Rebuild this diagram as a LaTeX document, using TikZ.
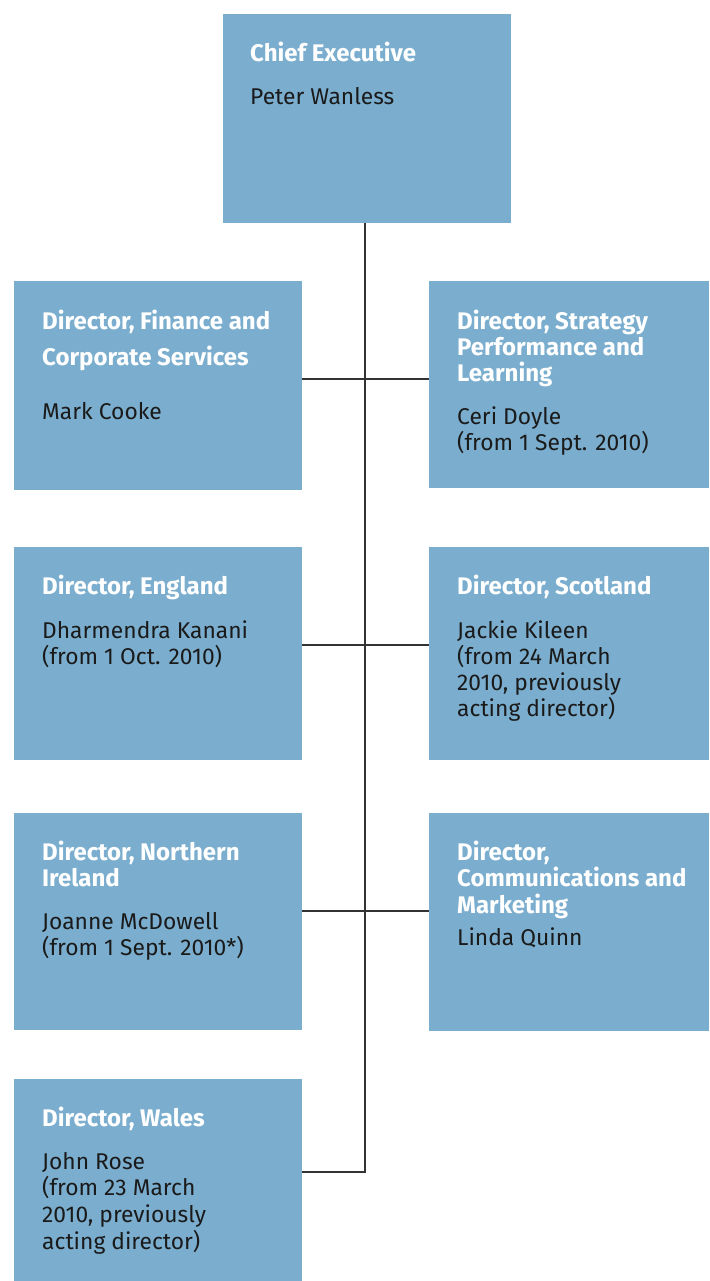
\documentclass[tikz,border=0pt]{standalone}
\usepackage{fontspec}
\setmainfont{Fira Sans}
\definecolor{boxblue}{HTML}{7BAECE}
\definecolor{ink}{HTML}{1A1A1A}
\definecolor{linegray}{HTML}{333333}
\begin{document}
\begin{tikzpicture}[x=1pt,y=-1pt,
  orgbox/.style={fill=boxblue,draw=none,anchor=north west,inner sep=0pt},
  ttl/.style={anchor=base west,inner sep=0pt,text=white,font=\fontsize{24}{26}\selectfont\bfseries},
  nm/.style={anchor=base west,inner sep=0pt,text=ink,font=\fontsize{22.8}{26}\selectfont},
  conn/.style={draw=linegray,line width=1.3pt}]
\useasboundingbox (0,0) rectangle (709,1281);
% boxes
\node[orgbox,minimum width=288pt,minimum height=209pt] (ceo) at (223,14) {};
\node[orgbox,minimum width=288pt,minimum height=209pt] (fin) at (14,281) {};
\node[orgbox,minimum width=280pt,minimum height=207pt] (strat) at (429,281) {};
\node[orgbox,minimum width=288pt,minimum height=213pt] (eng) at (14,547) {};
\node[orgbox,minimum width=280pt,minimum height=213pt] (scot) at (429,547) {};
\node[orgbox,minimum width=288pt,minimum height=217pt] (ni) at (14,813) {};
\node[orgbox,minimum width=280pt,minimum height=218pt] (comm) at (429,813) {};
\node[orgbox,minimum width=288pt,minimum height=202pt] (wal) at (14,1079) {};
% connectors
\coordinate (j1) at (365,379);
\coordinate (j2) at (365,645);
\coordinate (j3) at (365,911);
\coordinate (j4) at (365,1172);
\draw[conn] (ceo.south -| j1) -- (j4) -- (wal.east |- j4);
\draw[conn] (fin.east |- j1) -- (strat.west |- j1);
\draw[conn] (eng.east |- j2) -- (scot.west |- j2);
\draw[conn] (ni.east |- j3) -- (comm.west |- j3);
% texts
\node[ttl] (t0) at (250,61.5) {Chief Executive};
\node[nm] (n0) at (250,105) {Peter Wanless};
\node[ttl] (t1a) at (42,329.5) {Director, Finance and};
\node[ttl] (t1b) at (42,365.5) {Corporate Services};
\node[nm] (n1) at (42,419) {Mark Cooke};
\node[ttl] (t2a) at (457,329.5) {Director, Strategy};
\node[ttl] (t2b) at (457,355.5) {Performance and};
\node[ttl] (t2c) at (457,381.5) {Learning};
\node[nm] (n2a) at (457,424) {Ceri Doyle};
\node[nm] (n2b) at (457,450) {(from 1 Sept. 2010)};
\node[ttl] (t3) at (42,594.5) {Director, England};
\node[nm] (n3a) at (42,638) {Dharmendra Kanani};
\node[nm] (n3b) at (42,664) {(from 1 Oct. 2010)};
\node[ttl] (t4) at (457,594.5) {Director, Scotland};
\node[nm] (n4a) at (457,638) {Jackie Kileen};
\node[nm] (n4b) at (457,664) {(from 24 March};
\node[nm] (n4c) at (457,690) {2010, previously};
\node[nm] (n4d) at (457,716) {acting director)};
\node[ttl] (t5a) at (42,860.5) {Director, Northern};
\node[ttl] (t5b) at (42,886.5) {Ireland};
\node[nm] (n5a) at (42,929) {Joanne McDowell};
\node[nm] (n5b) at (42,955) {(from 1 Sept. 2010*)};
\node[ttl] (t6a) at (457,860.5) {Director,};
\node[ttl] (t6b) at (457,886.5) {Communications and};
\node[ttl] (t6c) at (457,913.5) {Marketing};
\node[nm] (n6) at (457,945) {Linda Quinn};
\node[ttl] (t7) at (42,1126.5) {Director, Wales};
\node[nm] (n7a) at (42,1169) {John Rose};
\node[nm] (n7b) at (42,1195) {(from 23 March};
\node[nm] (n7c) at (42,1222) {2010, previously};
\node[nm] (n7d) at (42,1249) {acting director)};
\end{tikzpicture}
\end{document}
